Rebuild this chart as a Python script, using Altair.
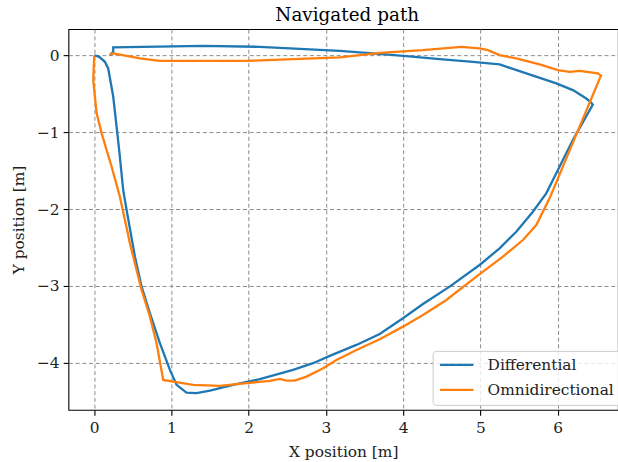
import altair as alt
import pandas as pd

# Differential path (x, y in metres)
diff_x = [0.0, 0.065, 0.138, 0.181, 0.246, 0.323, 0.375, 0.419, 0.527, 0.613, 0.721, 0.850,
          0.980, 1.066, 1.195, 1.325, 1.497, 1.798, 2.144, 2.574, 2.833, 3.049, 3.394, 3.696,
          3.997, 4.256, 4.601, 4.989, 5.248, 5.464, 5.679, 5.852, 5.982, 6.111, 6.197, 6.455,
          6.420, 6.370, 6.197, 5.982, 5.594, 5.248, 4.903, 4.472, 4.041, 3.609, 3.179, 2.144,
          1.410, 0.246, 0.246, 0.203]
diff_y = [0.0, -0.018, -0.083, -0.169, -0.538, -1.231, -1.752, -2.012, -2.619, -3.009, -3.355,
          -3.745, -4.092, -4.287, -4.387, -4.395, -4.361, -4.287, -4.213, -4.092, -4.005, -3.910,
          -3.767, -3.624, -3.420, -3.234, -3.009, -2.727, -2.510, -2.294, -2.034, -1.795, -1.534,
          -1.274, -1.101, -0.640, -0.600, -0.560, -0.451, -0.364, -0.234, -0.117, -0.083, -0.048,
          -0.009, 0.026, 0.060, 0.112, 0.125, 0.104, 0.047, 0.004]

# Omnidirectional path (x, y in metres)
omni_x = [0.0, -0.013, 0.031, 0.096, 0.160, 0.225, 0.332, 0.462, 0.613, 0.721, 0.807, 0.893,
          1.022, 1.281, 1.626, 1.972, 2.273, 2.402, 2.489, 2.596, 2.748, 2.963, 3.136, 3.395,
          3.696, 3.997, 4.256, 4.559, 4.947, 5.291, 5.550, 5.723, 5.830, 5.895,
          6.560, 6.520, 6.283, 6.154, 6.003, 5.766, 5.464, 5.248, 5.097, 4.989, 4.753,
          4.256, 3.696, 3.179, 1.972, 0.850, 0.591, 0.246, 0.203]
omni_y = [0.0, -0.321, -0.754, -1.014, -1.231, -1.449, -1.839, -2.445, -3.052, -3.399, -3.745,
          -4.222, -4.244, -4.287, -4.300, -4.265, -4.235, -4.209, -4.231, -4.231, -4.179, -4.070,
          -3.962, -3.832, -3.693, -3.529, -3.377, -3.182, -2.879, -2.619, -2.402, -2.207, -1.990,
          -1.860, -0.262, -0.234, -0.200, -0.213, -0.191, -0.117, -0.039,
          0.004, 0.069, 0.091, 0.112, 0.069, 0.034, -0.026, -0.070, -0.070, -0.039, 0.026, 0.017]

series_names = ["Differential", "Omnidirectional"]
series_colors = ["#1f77b4", "#ff7f0e"]
x_ticks = [0, 1, 2, 3, 4, 5, 6]
y_ticks = [0, -1, -2, -3, -4]

rows = []
for name, xs, ys in [(series_names[0], diff_x, diff_y), (series_names[1], omni_x, omni_y)]:
    for i, (xv, yv) in enumerate(zip(xs, ys)):
        rows.append({"series": name, "x": xv, "y": yv, "i": i})
df = pd.DataFrame(rows)

FONT = "DejaVu Serif"
FS = 15.4
W = 550
H = 381
x_min = -0.334
x_max = x_min + W / 77.3
y_min = -4.612
y_max = 0.342

chart = alt.Chart(df).mark_line(strokeWidth=2.3).encode(
    x=alt.X("x:Q", scale=alt.Scale(domain=[x_min, x_max], nice=False, zero=False),
            axis=alt.Axis(values=x_ticks, format="d", title="X position [m]")),
    y=alt.Y("y:Q", scale=alt.Scale(domain=[y_min, y_max], nice=False, zero=False),
            axis=alt.Axis(values=y_ticks, format="d", title="Y position [m]")),
    color=alt.Color("series:N",
                    scale=alt.Scale(domain=series_names, range=series_colors),
                    legend=alt.Legend(title=None, orient="none", legendX=364.5, legendY=322,
                                      symbolType="M-1,0H4", symbolSize=180, symbolStrokeWidth=2.3,
                                      rowPadding=8, labelFont=FONT, labelFontSize=FS,
                                      labelColor="#222222", labelOffset=33,
                                      fillColor="rgba(255,255,255,0.8)", strokeColor="#cccccc",
                                      cornerRadius=3, padding=6)),
    order=alt.Order("i:Q"),
).properties(
    width=W, height=H,
    title=alt.TitleParams("Navigated path", font=FONT, fontSize=18.4, fontWeight="normal",
                          color="black", anchor="middle", dx=4, offset=5),
    autosize=alt.AutoSizeParams(type="none"),
    padding={"left": 68.5, "top": 29, "right": 0, "bottom": 52},
).configure_view(
    stroke="black", strokeWidth=1.1
).configure_axis(
    domain=False, grid=True, gridColor="#8c8c8c", gridDash=[4, 2.7], gridWidth=1,
    tickColor="black", tickSize=5.3, tickWidth=1.1,
    labelFont=FONT, labelFontSize=FS, labelColor="#222222", labelPadding=4,
    titleFont=FONT, titleFontSize=FS, titleFontWeight="normal", titleColor="#222222",
).configure_axisX(titlePadding=9, labelPadding=5).configure_axisY(titlePadding=10)

chart.save("out.html", embed_options={"renderer": "svg", "actions": False})
